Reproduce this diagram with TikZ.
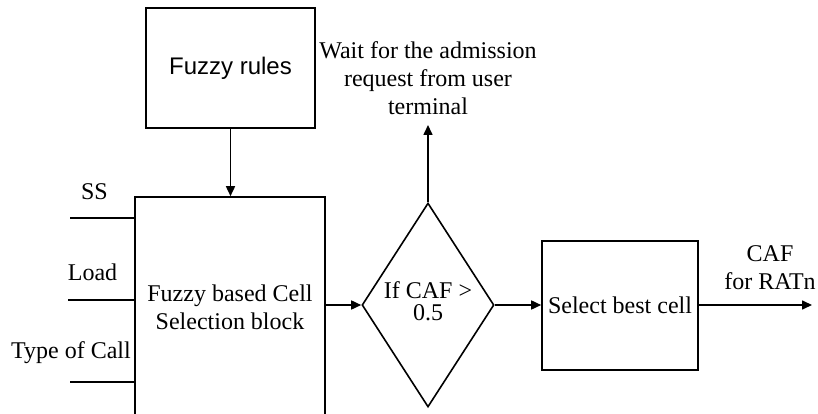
\documentclass[tikz,border=0pt]{standalone}
\usepackage{fontspec}
\setmainfont{Liberation Serif}
\newfontfamily\arialfont{Liberation Sans}
\usetikzlibrary{shapes.geometric,arrows.meta}
\begin{document}
\begin{tikzpicture}[x=1pt,y=-1pt,
  line width=1.6pt,
  txt/.style={font=\fontsize{24}{28}\selectfont, align=center, inner sep=0pt},
  blk/.style={draw, inner sep=0pt, font=\fontsize{24}{28}\selectfont, align=center},
  arr/.style={-{Triangle[length=10pt,width=9pt]}}]
\useasboundingbox (0,0) rectangle (818,414);
\clip (0,0) rectangle (818,414);
% blocks
\node[blk, minimum width=169pt, minimum height=120pt, font=\arialfont\fontsize{24}{28}\selectfont] (rules) at (230.5,68) {Fuzzy rules};
\node[blk, minimum width=190pt, minimum height=221pt] (main) at (230,307.5) {Fuzzy based Cell\\Selection block};
\node[draw, shape=diamond, inner sep=0pt, minimum width=132pt, minimum height=204pt] (dia) at (428,305) {};
\node[txt, font=\fontsize{24}{22}\selectfont] (diatext) at (dia.center) [yshift=4pt] {If CAF >\\0.5};
\node[blk, minimum width=156pt, minimum height=129pt] (sel) at (620,305.5) {Select best cell};
% texts
\node[txt] (wait) at (428,78) {Wait for the admission\\request from user\\terminal};
\node[txt] (caf) at (770,268) {CAF\\for RATn};
\node[txt] (ss) at (94.5,192) {SS};
\node[txt] (load) at (92.5,272) {Load};
\node[txt] (type) at (71,352.5) {Type of Call};
% free ends
\coordinate (ssin) at (70,218);
\coordinate (loadin) at (68,300);
\coordinate (typein) at (70,382);
\coordinate (waitend) at (428,125);
\coordinate (outend) at (812,305);
% connectors
\draw[arr] (rules.south) -- (rules.south |- main.north);
\draw (ssin) -- (ssin -| main.west);
\draw (loadin) -- (loadin -| main.west);
\draw (typein) -- (typein -| main.west);
\draw[arr] (main.east |- dia.west) -- (dia.west);
\draw[arr] (dia.north) -- (waitend);
\draw[arr] (dia.east) -- (dia.east -| sel.west);
\draw[arr] (sel.east |- outend) -- (outend);
\end{tikzpicture}
\end{document}
